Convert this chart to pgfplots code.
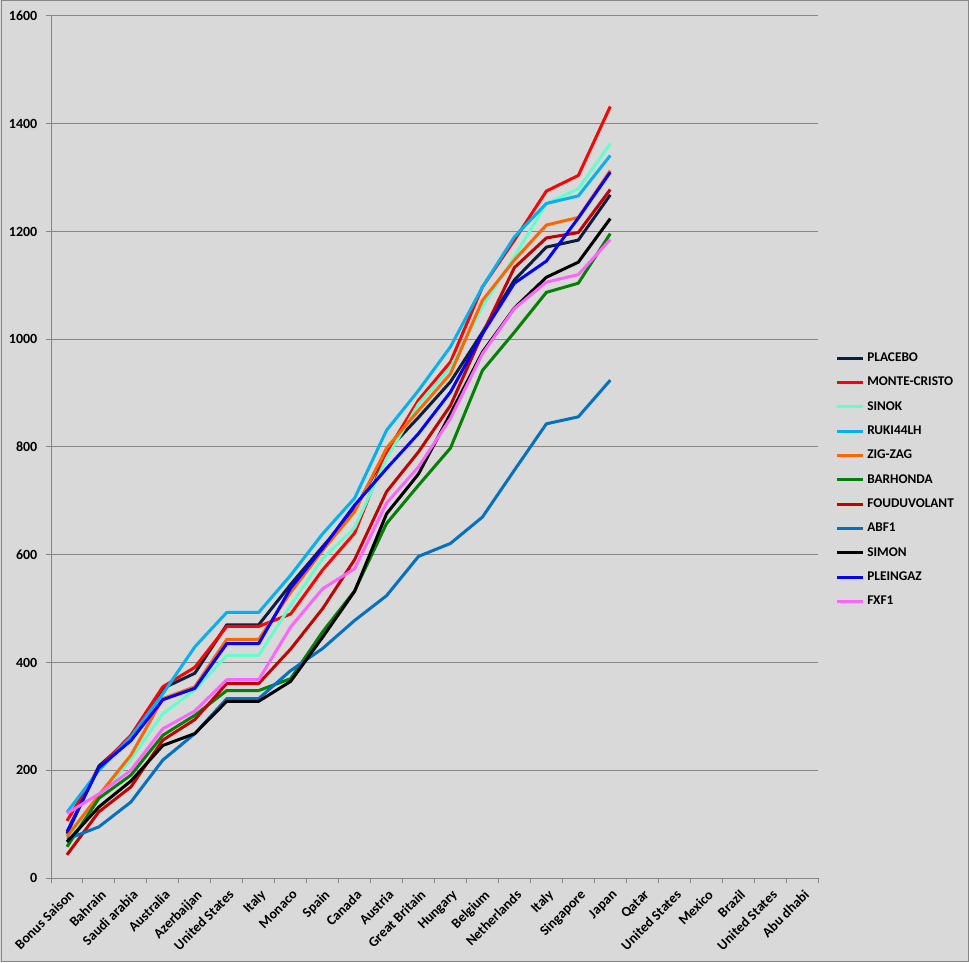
\documentclass[border=0pt]{standalone}
\usepackage{pgfplots}
\pgfplotsset{compat=1.18}
\usepackage{fontspec}
\setmainfont{Carlito}

\definecolor{bgcol}{HTML}{D9D9D9}
\definecolor{gridgray}{HTML}{868686}
\definecolor{placebo}{HTML}{0F1E3C}
\definecolor{monte}{HTML}{FF0000}
\definecolor{sinok}{HTML}{66FFCC}
\definecolor{ruki}{HTML}{00B0F0}
\definecolor{zigzag}{HTML}{FF6600}
\definecolor{barhonda}{HTML}{008000}
\definecolor{foudu}{HTML}{C00000}
\definecolor{abf}{HTML}{0070C0}
\definecolor{simon}{HTML}{000000}
\definecolor{pleingaz}{HTML}{0000FF}
\definecolor{fxf}{HTML}{FF66FF}

\begin{document}
\begin{tikzpicture}[x=1pt,y=1pt]
  \fill[bgcol] (0,0) rectangle (726.75,721.5);
  \draw[gridgray,line width=0.75pt] (0.75,0.75) rectangle (726,720.75);
  \begin{axis}[
    at={(38.25pt,63pt)}, anchor=south west,
    scale only axis,
    width=575.25pt, height=646.5pt,
    xmin=-0.5, xmax=23.5, ymin=0, ymax=1600,
    axis x line*=bottom, axis y line*=left,
    axis line style={-, draw=gridgray, line width=0.75pt},
    xtick={0,...,23},
    xticklabels={Bonus Saison,Bahrain,Saudi arabia,Australia,Azerbaijan,United States,Italy,Monaco,Spain,Canada,Austria,Great Britain,Hungary,Belgium,Netherlands,Italy,Singapore,Japan,Qatar,United States,Mexico,Brazil,United States,Abu dhabi},
    major x tick style={draw=none},
    minor xtick={-0.5,0.5,...,23.5},
    minor x tick style={draw=gridgray, line width=0.75pt},
    minor tick length=3.75pt,
    ytick={0,200,...,1600},
    major y tick style={draw=gridgray, line width=0.75pt},
    major tick length=3.75pt,
    tick align=outside,
    ymajorgrids,
    major grid style={draw=gridgray, line width=0.75pt},
    /pgf/number format/assume math mode=true,
    /pgf/number format/1000 sep={},
    yticklabel style={font=\bfseries\fontsize{10.5}{12}\selectfont, xshift=-3pt},
    xticklabel style={font=\bfseries\fontsize{10.5}{12}\selectfont, rotate=45, anchor=north east, inner sep=1pt, yshift=-2.5pt, xshift=-1.5pt},
    legend cell align=left,
    legend style={at={(1,0.462)}, anchor=west, draw=none, fill=none,
      font=\bfseries\fontsize{10}{11}\selectfont, row sep=6.2pt, xshift=10pt},
    legend image code/.code={\draw[#1, line width=2.25pt] (0pt,0pt) -- (19.5pt,0pt);},
    every axis plot/.append style={line width=2.25pt, line join=round, no markers},
  ]
    % PLACEBO
    \addplot[color=placebo] coordinates {
      (0,82) (1,208) (2,260) (3,352) (4,380) (5,470) (6,470) (7,545) (8,615)
      (9,683) (10,792) (11,855) (12,921) (13,1013) (14,1110) (15,1171) (16,1184) (17,1268)
    };
    % MONTE-CRISTO
    \addplot[color=monte] coordinates {
      (0,106) (1,204) (2,265) (3,355) (4,391) (5,467) (6,467) (7,490) (8,572)
      (9,640) (10,790) (11,887) (12,958) (13,1097) (14,1184) (15,1275) (16,1304) (17,1432)
    };
    % SINOK
    \addplot[color=sinok] coordinates {
      (0,65) (1,151) (2,220) (3,305) (4,349) (5,413) (6,413) (7,506) (8,593)
      (9,650) (10,779) (11,880) (12,948) (13,1060) (14,1153) (15,1252) (16,1279) (17,1363)
    };
    % RUKI44LH
    \addplot[color=ruki] coordinates {
      (0,122) (1,200) (2,262) (3,342) (4,429) (5,493) (6,493) (7,562) (8,639)
      (9,705) (10,831) (11,905) (12,986) (13,1097) (14,1190) (15,1252) (16,1266) (17,1341)
    };
    % ZIG-ZAG
    \addplot[color=zigzag] coordinates {
      (0,77) (1,154) (2,228) (3,333) (4,355) (5,443) (6,443) (7,530) (8,608)
      (9,680) (10,798) (11,868) (12,936) (13,1072) (14,1147) (15,1212) (16,1226) (17,1313)
    };
    % BARHONDA
    \addplot[color=barhonda] coordinates {
      (0,58) (1,148) (2,191) (3,265) (4,302) (5,348) (6,348) (7,370) (8,457)
      (9,533) (10,658) (11,729) (12,798) (13,942) (14,1013) (15,1087) (16,1104) (17,1196)
    };
    % FOUDUVOLANT
    \addplot[color=foudu] coordinates {
      (0,43) (1,123) (2,169) (3,256) (4,294) (5,361) (6,361) (7,425) (8,500)
      (9,591) (10,717) (11,791) (12,877) (13,1010) (14,1133) (15,1188) (16,1198) (17,1278)
    };
    % ABF1
    \addplot[color=abf] coordinates {
      (0,72) (1,95) (2,141) (3,219) (4,268) (5,333) (6,333) (7,385) (8,426)
      (9,478) (10,524) (11,597) (12,621) (13,670) (14,757) (15,843) (16,856) (17,924)
    };
    % SIMON
    \addplot[color=simon] coordinates {
      (0,67) (1,132) (2,180) (3,246) (4,268) (5,328) (6,328) (7,365) (8,447)
      (9,532) (10,676) (11,750) (12,862) (13,976) (14,1058) (15,1115) (16,1143) (17,1224)
    };
    % PLEINGAZ
    \addplot[color=pleingaz] coordinates {
      (0,86) (1,205) (2,255) (3,331) (4,352) (5,435) (6,435) (7,538) (8,612)
      (9,692) (10,760) (11,825) (12,902) (13,1010) (14,1104) (15,1145) (16,1225) (17,1310)
    };
    % FXF1
    \addplot[color=fxf] coordinates {
      (0,120) (1,156) (2,200) (3,277) (4,310) (5,368) (6,368) (7,466) (8,537)
      (9,574) (10,696) (11,763) (12,853) (13,973) (14,1057) (15,1106) (16,1120) (17,1185)
    };
    \legend{PLACEBO,MONTE-CRISTO,SINOK,RUKI44LH,ZIG-ZAG,BARHONDA,FOUDUVOLANT,ABF1,SIMON,PLEINGAZ,FXF1}
  \end{axis}
  \pgfresetboundingbox
  \useasboundingbox (0,0) rectangle (726.75,721.5);
\end{tikzpicture}
\end{document}
